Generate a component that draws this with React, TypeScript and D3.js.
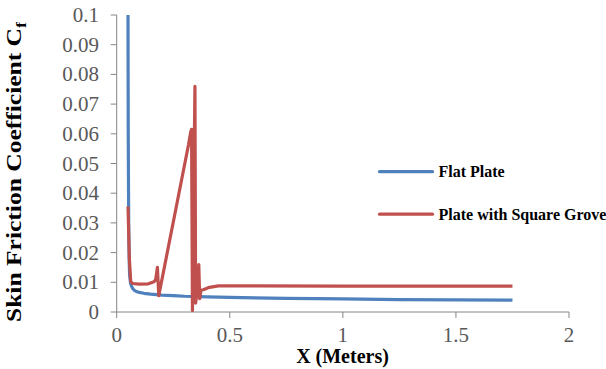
import * as d3 from "d3"

// Flat plate series (x in meters, Cf)
const flatX = [0.05, 0.051, 0.053, 0.055, 0.057, 0.061, 0.066, 0.072, 0.08, 0.09, 0.1, 0.12, 0.15, 0.2, 0.25, 0.3, 0.4, 0.5, 0.75, 1.0, 1.25, 1.5, 1.75]
const flatY = [0.1, 0.06, 0.03, 0.018, 0.0125, 0.0098, 0.0086, 0.0078, 0.0072, 0.0068, 0.0066, 0.0063, 0.006, 0.0057, 0.0055, 0.0053, 0.0051, 0.0049, 0.0046, 0.0044, 0.0042, 0.0041, 0.004]

// Plate with square grove series
const groveX = [0.05, 0.056, 0.062, 0.07, 0.1, 0.14, 0.165, 0.172, 0.18, 0.186, 0.318, 0.327, 0.331, 0.333, 0.335, 0.34, 0.346, 0.349, 0.354, 0.358, 0.363, 0.367, 0.373, 0.383, 0.41, 0.45, 0.6, 1.0, 1.5, 1.75]
const groveY = [0.0355, 0.018, 0.0102, 0.0096, 0.0094, 0.0095, 0.0102, 0.0108, 0.015, 0.0055, 0.0565, 0.0605, 0.0615, 0.03, 0.0005, 0.035, 0.076, 0.003, 0.006, 0.008, 0.016, 0.0045, 0.0074, 0.0075, 0.0083, 0.0088, 0.0088, 0.0087, 0.0087, 0.0087]

const xTicks = [0, 0.5, 1, 1.5, 2]
const xTickLabels = ["0", "0.5", "1", "1.5", "2"]
const yTicks = [0, 0.01, 0.02, 0.03, 0.04, 0.05, 0.06, 0.07, 0.08, 0.09, 0.1]
const yTickLabels = ["0", "0.01", "0.02", "0.03", "0.04", "0.05", "0.06", "0.07", "0.08", "0.09", "0.1"]

const seriesNames = ["Flat Plate", "Plate with Square Grove"]
const seriesColors = ["#4F81BD", "#C0504D"]

export default function App() {
  const width = 606
  const height = 369
  const left = 116.7
  const right = 569
  const top = 15
  const bottom = 312

  const x = d3.scaleLinear().domain([0, 2]).range([left, right])
  const y = d3.scaleLinear().domain([0, 0.1]).range([bottom, top])

  const line = d3
    .line<[number, number]>()
    .x((d) => x(d[0]))
    .y((d) => y(d[1]))

  const flat = flatX.map((v, i) => [v, flatY[i]] as [number, number])
  const grove = groveX.map((v, i) => [v, groveY[i]] as [number, number])

  const axisColor = "#868686"
  const labelColor = "#595959"
  const font = "'Times New Roman', 'Liberation Serif', 'DejaVu Serif', serif"

  return (
    <svg
      width={width}
      height={height}
      style={{ position: "absolute", left: 0, top: 0, background: "#fff" }}
    >
      <defs>
        <clipPath id="plot">
          <rect x={left} y={top - 2} width={right - left} height={bottom - top + 2} />
        </clipPath>
      </defs>

      {/* ejes */}
      <line x1={left} x2={left} y1={y(0.1)} y2={bottom} stroke={axisColor} strokeWidth={1} />
      <line x1={left} x2={right} y1={bottom} y2={bottom} stroke={axisColor} strokeWidth={1} />
      {yTicks.map((t, i) => (
        <g key={"y" + i}>
          <line x1={left - 6} x2={left} y1={y(t)} y2={y(t)} stroke={axisColor} />
          <text x={99} y={y(t) + 7} textAnchor="end" fontSize={21} fill={labelColor} style={{ fontFamily: font }}>
            {yTickLabels[i]}
          </text>
        </g>
      ))}
      {xTicks.map((t, i) => (
        <g key={"x" + i}>
          <line x1={x(t)} x2={x(t)} y1={bottom} y2={bottom + 6} stroke={axisColor} />
          <text x={x(t)} y={342} textAnchor="middle" fontSize={21} fill={labelColor} style={{ fontFamily: font }}>
            {xTickLabels[i]}
          </text>
        </g>
      ))}

      {/* títulos de ejes */}
      <text x={342.5} y={363} textAnchor="middle" fontSize={20} fontWeight="bold" fill="#000" style={{ fontFamily: font }}>
        X (Meters)
      </text>
      <text
        transform={`translate(21,172) rotate(-90)`}
        textAnchor="middle"
        fontSize={20}
        fontWeight="bold"
        fill="#000"
        textLength={300}
        lengthAdjust="spacingAndGlyphs"
        style={{ fontFamily: font }}
      >
        Skin Friction Coefficient C
        <tspan fontSize={14} dy={5}>f</tspan>
      </text>

      {/* series */}
      <g clipPath="url(#plot)">
        <path d={line(flat) || ""} fill="none" stroke={seriesColors[0]} strokeWidth={3.2} strokeLinejoin="round" />
        <path d={line(grove) || ""} fill="none" stroke={seriesColors[1]} strokeWidth={3.2} strokeLinejoin="round" />
      </g>

      {/* leyenda */}
      {seriesNames.map((name, i) => (
        <g key={name} transform={`translate(0, ${171.7 + i * 42.5})`}>
          <line x1={379.5} x2={432.5} y1={0} y2={0} stroke={seriesColors[i]} strokeWidth={3.2} strokeLinecap="round" />
          <text x={438.5} y={5.5} fontSize={16} fontWeight="bold" fill="#000" style={{ fontFamily: font }}>
            {name}
          </text>
        </g>
      ))}
    </svg>
  )
}
